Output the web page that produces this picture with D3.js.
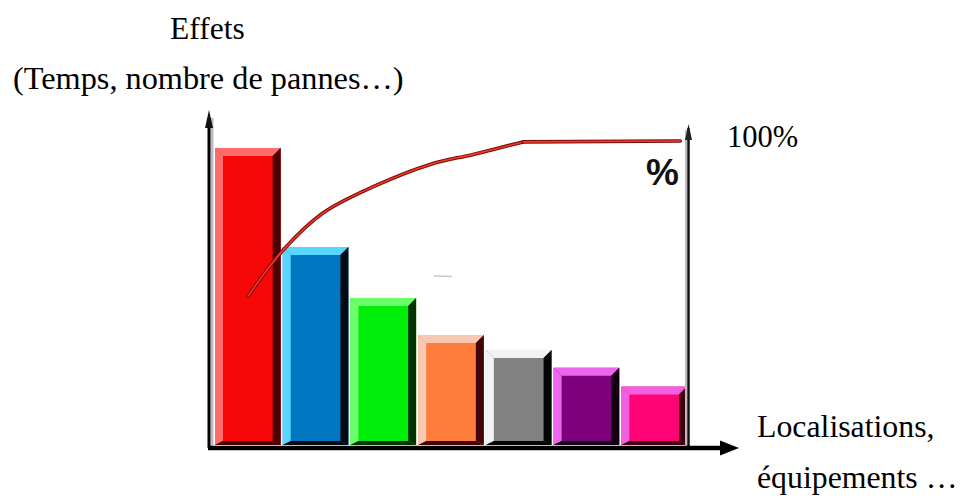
<!DOCTYPE html>
<html><head><meta charset="utf-8">
<script src="https://cdn.jsdelivr.net/npm/d3@7"></script>
<style>body{margin:0;background:#fff}svg{display:block}</style>
</head><body>
<svg id="c" width="960" height="496"></svg>
<script>
// ---- data ----
const categories = ["C1","C2","C3","C4","C5","C6","C7"];
const values = [30, 20, 14.85, 11.1, 9.6, 7.8, 5.9];
const baseColors  = ["#f70808","#0077c2","#00ee0a","#ff7d3c","#818181","#7c007c","#ff0474"];
const lightColors = ["#ff6b6b","#59d6ff","#6cff6c","#f8c8b2","#f2f2f2","#ee66ee","#f060e0"];
const darkColors  = ["#4a0202","#020a12","#003300","#420404","#050505","#120012","#440010"];
const curveX   = [0.49, 1.01, 1.60, 2.34, 3.19, 3.83, 4.57];
const curvePct = [49.0, 64.1, 76.3, 84.9, 92.3, 95.6, 99.7];
const flatX    = [4.57, 6.90];
const flatPct  = [99.7, 100];
const yTitle = ["Effets", "(Temps, nombre de pannes\u2026)"];
const xTitle = ["Localisations,", "\u00e9quipements \u2026"];
const rightLabel = "100%";
const pctSymbol = "%";

// ---- scales ----
const svg = d3.select("#c");
const x = d3.scaleBand().domain(categories).range([215, 687]).paddingInner(0.03);
const y = d3.scaleLinear().domain([0, 30]).range([445, 148]);
const xc = d3.scaleLinear().domain([0, 7]).range([215, 687]);
const yp = d3.scaleLinear().domain([0, 100]).range([445, 141]);

// ---- bars with bevel ----
const bv = 8, bb = 4;
const g = svg.append("g");
categories.forEach((c, i) => {
  const x0 = x(c), x1 = x(c) + x.bandwidth(), y0 = y(values[i]), y1 = y(0);
  const bar = g.append("g");
  bar.append("rect").attr("x", x0).attr("y", y0).attr("width", x1 - x0).attr("height", y1 - y0).attr("fill", baseColors[i]);
  const poly = (pts, col) => bar.append("polygon").attr("points", pts.map(p => p.join(",")).join(" ")).attr("fill", col);
  poly([[x0, y0], [x0 + bv, y0 + bv], [x0 + bv, y1 - bb], [x0, y1]], lightColors[i]);
  poly([[x0, y0], [x1, y0], [x1 - bv, y0 + bv], [x0 + bv, y0 + bv]], lightColors[i]);
  poly([[x1, y0], [x1, y1], [x1 - bv, y1 - bb], [x1 - bv, y0 + bv]], darkColors[i]);
  poly([[x0, y1], [x1, y1], [x1 - bv, y1 - bb], [x0 + bv, y1 - bb]], darkColors[i]);
});

// stray artifact
svg.append("line").attr("x1", 434).attr("x2", 452).attr("y1", 276).attr("y2", 276.5)
  .attr("stroke", "#c8c8c8").attr("stroke-width", 1.5);

// ---- axes ----
const ax = svg.append("g");
const yAxisX = xc(0) - 6, rAxisX = xc(7) + 1.5, xAxisY = y(0) + 3;
ax.append("line").attr("x1", yAxisX + 3).attr("x2", yAxisX + 3).attr("y1", 118).attr("y2", xAxisY)
  .attr("stroke", "#bdbdbd").attr("stroke-width", 3);
ax.append("line").attr("x1", rAxisX - 2.5).attr("x2", rAxisX - 2.5).attr("y1", 130).attr("y2", xAxisY)
  .attr("stroke", "#bbbbbb").attr("stroke-width", 2);
ax.append("line").attr("x1", yAxisX).attr("x2", yAxisX).attr("y1", 118).attr("y2", xAxisY)
  .attr("stroke", "#000").attr("stroke-width", 3);
ax.append("polygon").attr("points", `${yAxisX},110 ${yAxisX-4},128 ${yAxisX+4},128`).attr("fill", "#111");
ax.append("line").attr("x1", rAxisX).attr("x2", rAxisX).attr("y1", 128).attr("y2", xAxisY)
  .attr("stroke", "#111").attr("stroke-width", 2.5);
ax.append("polygon").attr("points", `${rAxisX},124 ${rAxisX-3.5},140 ${rAxisX+3.5},140`).attr("fill", "#222");
ax.append("line").attr("x1", yAxisX - 1).attr("x2", 724).attr("y1", xAxisY).attr("y2", xAxisY)
  .attr("stroke", "#000").attr("stroke-width", 4.5);
ax.append("polygon").attr("points", `720,${xAxisY-7.5} 739,${xAxisY} 720,${xAxisY+7.5}`).attr("fill", "#000");

// ---- cumulative curve ----
const pts = curveX.map((v, i) => [xc(v), yp(curvePct[i])]);
const fpts = flatX.map((v, i) => [xc(v), yp(flatPct[i])]);
const cline = d3.line().curve(d3.curveCatmullRom.alpha(0.5));
const fline = d3.line();
[[cline, pts], [fline, fpts]].forEach(([ln, p]) => {
  svg.append("path").attr("d", ln(p)).attr("fill", "none").attr("stroke", "#7a0a0a").attr("stroke-width", 3.6).attr("stroke-linecap", "round");
  svg.append("path").attr("d", ln(p)).attr("fill", "none").attr("stroke", "#f03a2a").attr("stroke-width", 1.6).attr("stroke-linecap", "round");
});

// ---- texts ----
const serif = "'Liberation Serif','Times New Roman',serif";
svg.append("text").attr("x", 170).attr("y", 39).attr("font-family", serif).attr("font-size", 31.5).attr("fill", "#000").text(yTitle[0]);
svg.append("text").attr("x", 13).attr("y", 89).attr("font-family", serif).attr("font-size", 32.3).attr("fill", "#000").text(yTitle[1]);
svg.append("text").attr("x", 727).attr("y", 147).attr("font-family", serif).attr("font-size", 30.5).attr("fill", "#000").text(rightLabel);
svg.append("text").attr("x", 646).attr("y", 185).attr("font-family", "'Liberation Sans',Arial,sans-serif").attr("font-weight", "bold").attr("font-size", 37).attr("fill", "#111").text(pctSymbol);
svg.append("text").attr("x", 757).attr("y", 437).attr("font-family", serif).attr("font-size", 31.8).attr("fill", "#000").text(xTitle[0]);
svg.append("text").attr("x", 757).attr("y", 488).attr("font-family", serif).attr("font-size", 31.8).attr("fill", "#000").text(xTitle[1]);
</script>
</body></html>
